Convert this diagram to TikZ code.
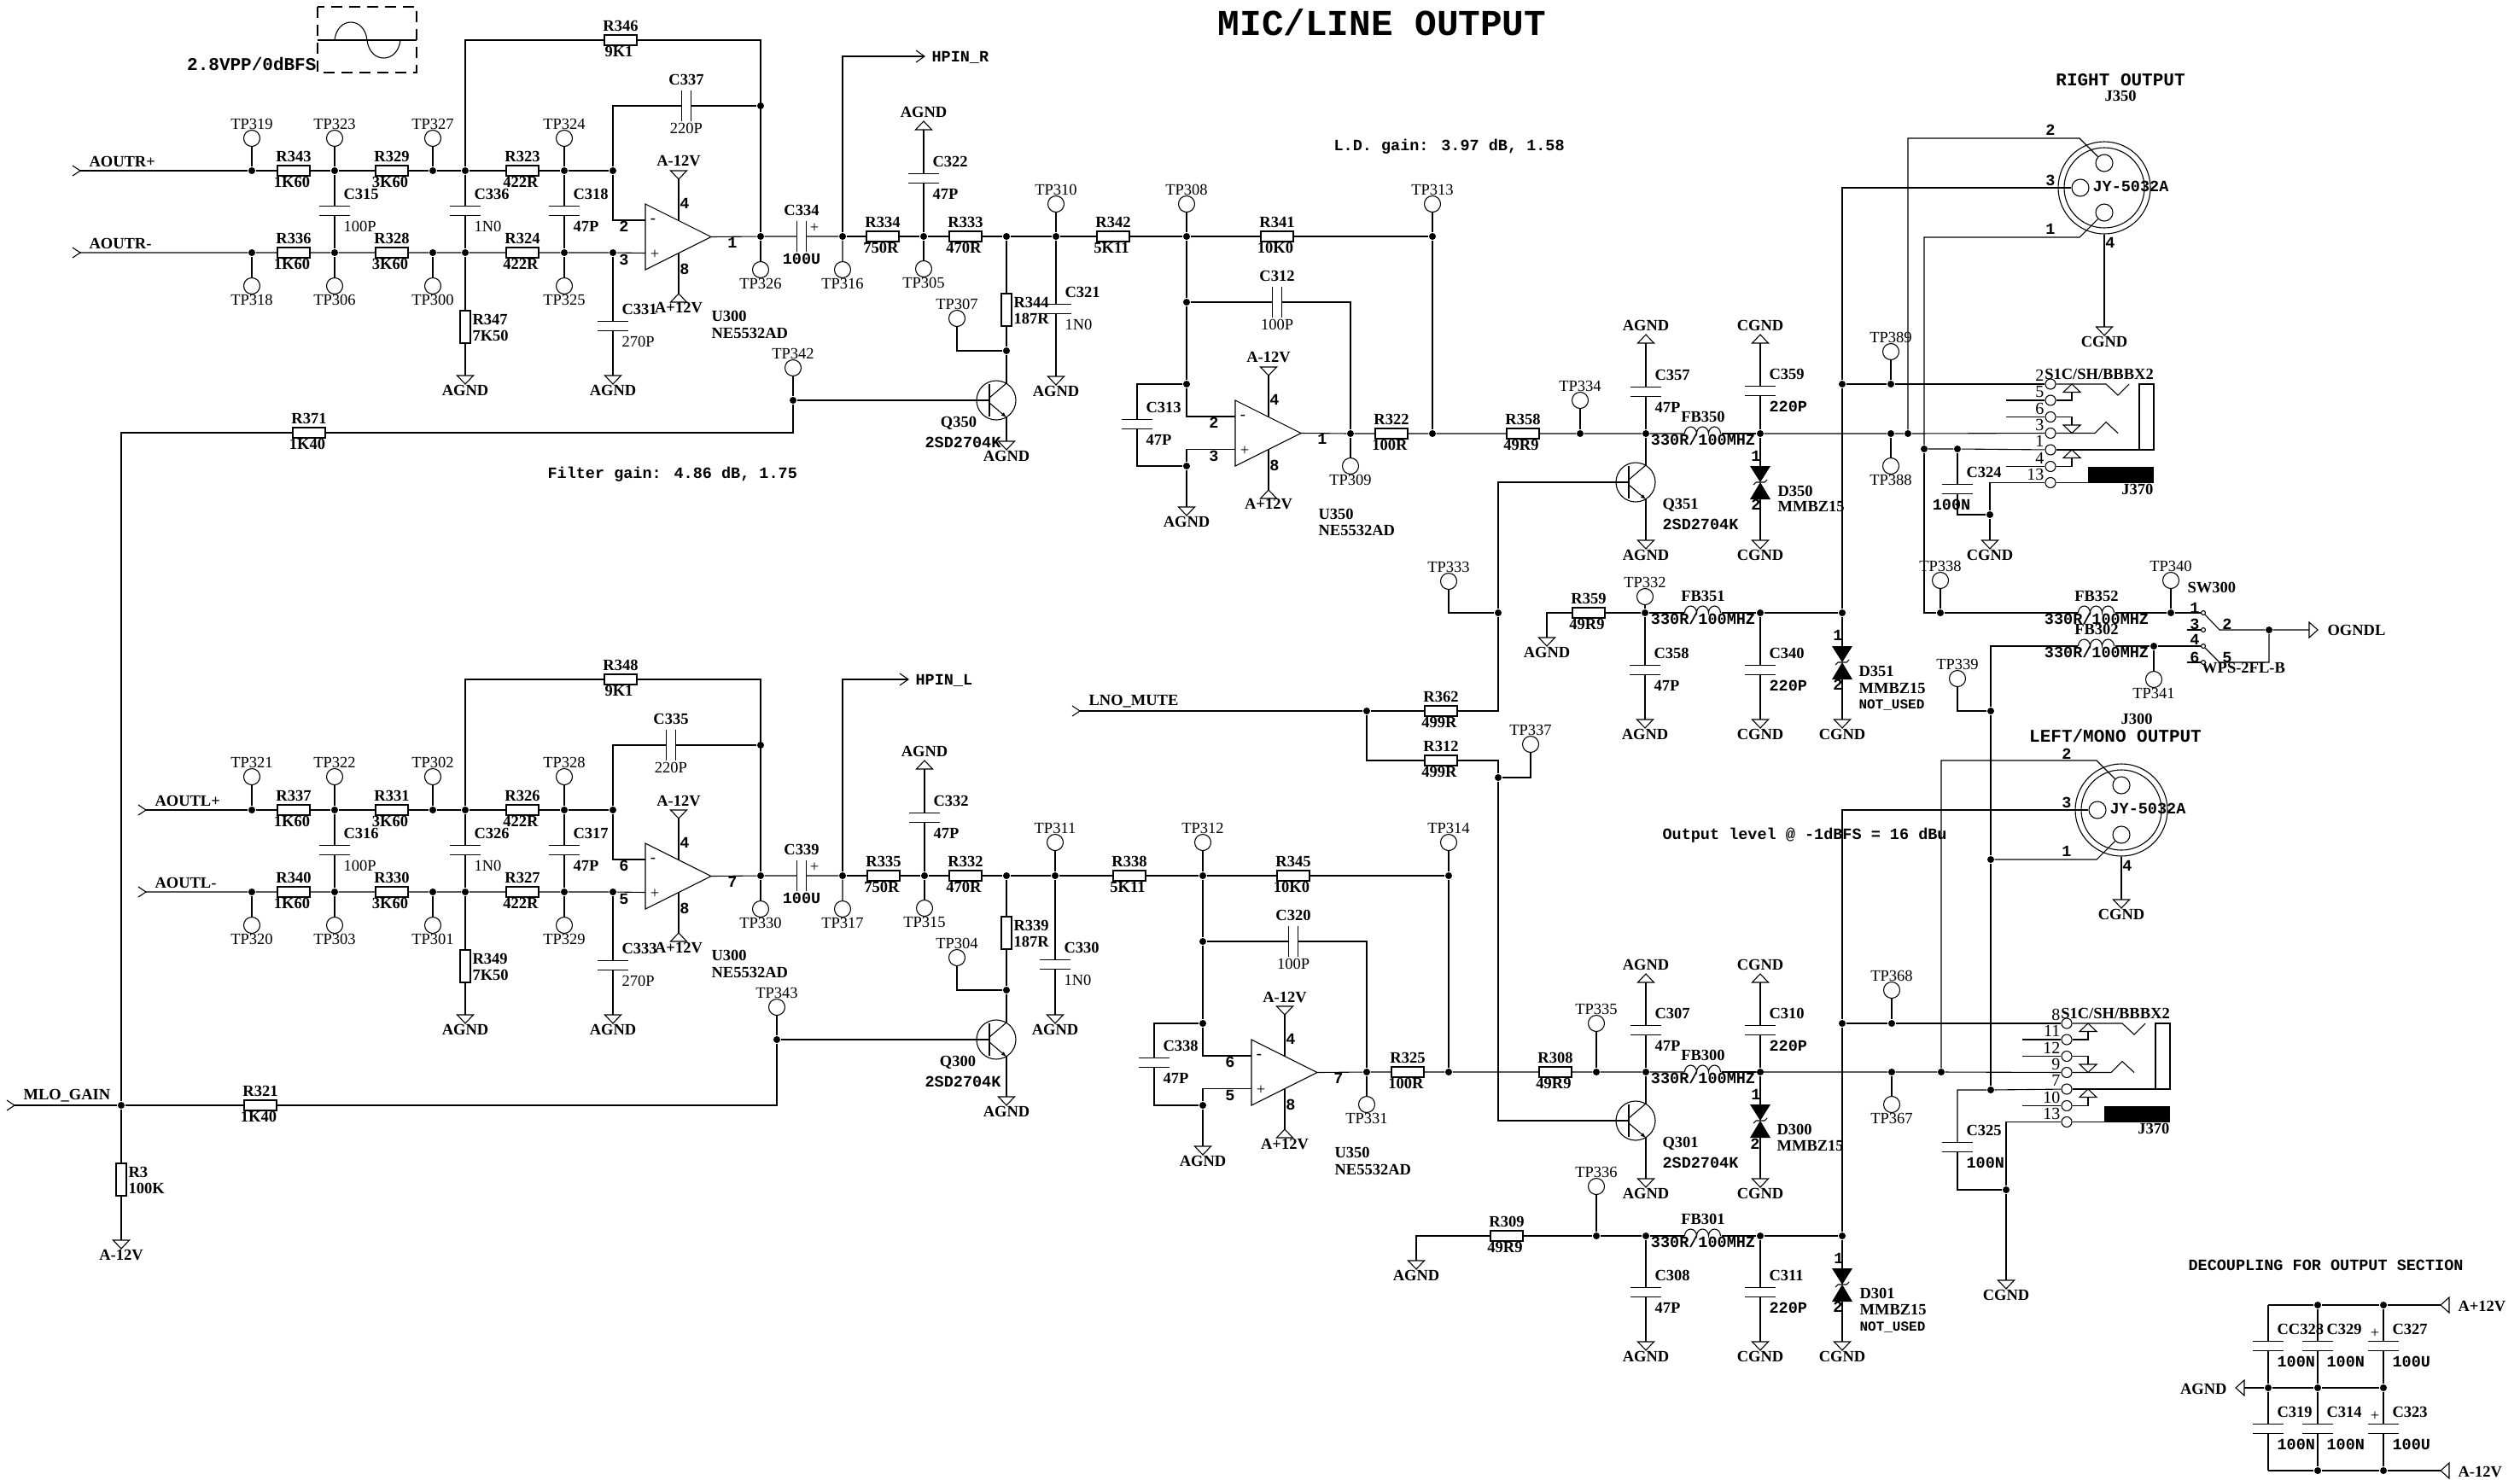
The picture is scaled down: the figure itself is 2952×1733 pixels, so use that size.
\documentclass[tikz,border=0pt]{standalone}
\usepackage{fontspec}
\setmainfont{Liberation Serif}
\newfontfamily\mymonofont{Liberation Mono}
\newcommand{\fsmono}{\mymonofont\fontsize{18.5}{20}\selectfont\bfseries}
\newcommand{\vmono}[1]{{\fsmono #1}}
\newcommand{\vbold}[1]{{\bfseries #1}}
% parts, all at pixel coordinates
\newcommand{\myjun}[3]{\node[mydot] (#1) at (#2,#3) {};}
\newcommand{\mytest}[4]{\node[mytp, label={[mylab]#4:#1}] (#1) at (#2,#3) {};}
\newcommand{\myresh}[4]{\node[myres] (#1) at (#2,#3) {};
	\node[mybold] (#1r) at ([shift={(0,-17)}]#1.center) {#1};
	\node[mybold] (#1v) at ([shift={(-2,13)}]#1.center) {#4};}
\newcommand{\myresv}[4]{\node[myrv] (#1) at (#2,#3) {};
	\node[myboldl] (#1r) at ([shift={(8,-9)}]#1.center) {#1};
	\node[myboldl] (#1v) at ([shift={(8,10)}]#1.center) {#4};}
\newcommand{\mycaph}[4]{\node[mych] (#1) at (#2,#3) {};
	\draw (#1.north west) -- (#1.north east) (#1.south west) -- (#1.south east);
	\node[myboldl] (#1r) at ([shift={(10,-20)}]#1.center) {#1};
	\node[mytextl] (#1v) at ([shift={(10,18)}]#1.center) {#4};}
\newcommand{\mycapv}[4]{\node[mycv] (#1) at (#2,#3) {};
	\draw (#1.north west) -- (#1.south west) (#1.north east) -- (#1.south east);
	\node[mybold] (#1r) at ([shift={(0,-31)}]#1.center) {#1};
	\node[mytext] (#1v) at ([shift={(0,26)}]#1.center) {#4};}
\newcommand{\myfb}[4]{\node[myind] (#1) at (#2,#3) {};
	\draw (#1.west) arc[start angle=180,end angle=0,x radius=7pt,y radius=8pt]
		arc[start angle=180,end angle=0,x radius=7pt,y radius=8pt]
		arc[start angle=180,end angle=0,x radius=7pt,y radius=8pt];
	\node[mybold] (#1r) at ([shift={(0,-20)}]#1.center) {#1};
	\node[mymono] (#1v) at ([shift={(0,7)}]#1.center) {#4};}
% supply and ground triangles: base offset, tip offset, text offset
\newcommand{\mypow}[7]{\coordinate (#1) at (#2,#3);
	\draw ([shift={(-9.5,#4)}]#1) -- ([shift={(9.5,#4)}]#1) -- ([shift={(0,#5)}]#1) -- cycle;
	\node[mybold] (#1t) at ([shift={(0,#6)}]#1) {#7};}
\newcommand{\mygd}[4]{\mypow{#1}{#2}{#3}{0}{10}{17}{#4}}
\newcommand{\mygu}[4]{\mypow{#1}{#2}{#3}{0}{-10}{-21}{#4}}
\newcommand{\mypowh}[5]{\coordinate (#1) at (#2,#3);
	\draw ([shift={(#4,-9)}]#1) -- ([shift={(#4,9)}]#1) -- ([shift={(#5,0)}]#1) -- cycle;}
\newcommand{\myin}[4]{\coordinate (#1) at (#2,#3);
	\draw ([shift={(-9,-6)}]#1) -- (#1) -- ([shift={(-9,6)}]#1);
	\node[myboldl] (#1t) at ([shift={(10,-11)}]#1) {#4};}
\newcommand{\mypin}[4]{\node[mymono] (#1) at (#2,#3) {#4};}
\newcommand{\myop}[6]{\begin{scope}[shift={(#2,#3)}]
	\draw (0,0) -- (77,38.5) -- (0,77) -- cycle;
	\coordinate (#1n) at (0,19); \coordinate (#1p) at (0,57.5); \coordinate (#1o) at (77,38.5);
	\coordinate (#1t) at (39,19.5); \coordinate (#1b) at (39,57.5);
	\node[mybold] (#1m) at (9,20) {-}; \node[mytext] (#1a) at (11,59) {+};
	\mypow{#1g}{39}{-29}{-10}{0}{-21}{A-12V}
	\mypow{#1h}{39}{105}{10}{0}{17}{A+12V}
	\draw (#1t) -- (#1g) (#1b) -- (#1h);
	\mypin{#1pt}{46}{-1}{4} \mypin{#1pb}{46}{76}{8}
	\mypin{#1pn}{-25}{26}{#4} \mypin{#1pp}{-25}{65}{#5} \mypin{#1po}{102}{45}{#6}
	\end{scope}}
\newcommand{\mynpn}[3]{\node[mytr] (#1) at (#2,#3) {};
	\coordinate (#1b) at ([shift={(-8,0)}]#1.center);
	\coordinate (#1c) at ([shift={(12,-20)}]#1.center);
	\coordinate (#1e) at ([shift={(12,20)}]#1.center);
	\draw[line width=2.5pt] ([shift={(-8,-19)}]#1.center) -- ([shift={(-8,19)}]#1.center);
	\draw ([shift={(-8,-3)}]#1.center) -- (#1c);
	\draw[-latex] ([shift={(-8,3)}]#1.center) -- (#1e);}
\newcommand{\myzen}[3]{\coordinate (#1a) at (#2,#3-19); \coordinate (#1k) at (#2,#3+20);
	\coordinate (#1m) at (#2,#3);
	\fill ([shift={(-12,0)}]#1a) -- ([shift={(12,0)}]#1a) -- (#1m) -- cycle;
	\fill ([shift={(-12,0)}]#1k) -- ([shift={(12,0)}]#1k) -- (#1m) -- cycle;
	\draw ([shift={(-8,3)}]#1m) -- ([shift={(-5,0)}]#1m) -- ([shift={(5,0)}]#1m) -- ([shift={(8,-3)}]#1m);}
\newcommand{\myjack}[9]{\begin{scope}[shift={(#2,#3)}]
	\node[mypn] (#1a) at (0,0) {}; \node[mypn] (#1b) at (0,19) {}; \node[mypn] (#1c) at (0,38.5) {};
	\node[mypn] (#1d) at (0,57.5) {}; \node[mypn] (#1e) at (0,77) {}; \node[mypn] (#1f) at (0,96.5) {};
	\node[mypn] (#1g) at (0,115.5) {};
	\node[mynum] (#1na) at (-7,-10) {#4}; \node[mynum] (#1nb) at (-7,9) {#5}; \node[mynum] (#1nc) at (-7,28.5) {#6};
	\node[mynum] (#1nd) at (-7,47.5) {#7}; \node[mynum] (#1ne) at (-7,67) {#8}; \node[mynum] (#1nf) at (-7,86.5) {#9};
	\node[mynum] (#1ng) at (-7,105.5) {13};
	\draw (#1a) -- (65,0) -- (79,13) -- (92,0);
	\draw (104,0) rectangle (121,77);
	\draw (#1e) -- (104,77);
	\draw (-52,19) -- (#1b) (#1b) -- (25,19) -- (25,9.5);
	\draw (25,0) -- (35,9.5) -- (15,9.5) -- cycle;
	\draw (-52,38.5) -- (#1c) (#1c) -- (25,38.5) -- (25,48);
	\draw (25,57.5) -- (35,48) -- (15,48) -- cycle;
	\draw (#1d) -- (52,57.5) -- (65,44.5) -- (79,57.5);
	\draw (-52,96.5) -- (#1f) (#1f) -- (25,96.5) -- (25,86.5);
	\draw (25,77) -- (35,86.5) -- (15,86.5) -- cycle;
	\draw (#1g) -- (44,115.5);
	\fill (44,96.5) rectangle (121,115.5);
	\node[mybold] (#1s) at (57,-12) {S1C/SH/BBBX2};
	\node[mybold, anchor=east] (#1j) at (121,123) {J370};
	\end{scope}}
\newcommand{\myxlr}[3]{\begin{scope}[shift={(#2,#3)}]
	\node[myxo] (#1) at (0,0) {}; \node[myxi] (#1i) at (0,0) {};
	\node[myxp] (#1t) at (0,-29) {}; \node[myxp] (#1l) at (-28,0) {}; \node[myxp] (#1d) at (0,29) {};
	\coordinate (#1bt) at (-29,-58); \coordinate (#1bd) at (-29,58);
	\node[mymonol] (#1s) at (-14,-2) {JY-5032A};
	\end{scope}}

\begin{document}
\begin{tikzpicture}[x=1pt,y=-1pt,line width=1.1pt]
\tikzstyle{mydot} = [circle, minimum size=8pt, fill, inner sep=0pt] % wire junction
\tikzstyle{mytp} = [circle, minimum size=19pt, draw, inner sep=0pt, label distance=3pt] % test point
\tikzstyle{mypn} = [circle, minimum size=12pt, draw, inner sep=0pt, fill=white] % jack pin
\tikzstyle{mysw} = [circle, minimum size=5pt, draw, inner sep=0pt, fill=white] % switch contact
\tikzstyle{myres} = [rectangle, draw, minimum width=38pt, minimum height=12pt, inner sep=0pt]
\tikzstyle{myrv} = [rectangle, draw, minimum width=12pt, minimum height=38pt, inner sep=0pt]
\tikzstyle{mych} = [rectangle, minimum width=34pt, minimum height=10pt, inner sep=0pt]
\tikzstyle{mycv} = [rectangle, minimum width=10pt, minimum height=34pt, inner sep=0pt]
\tikzstyle{myind} = [rectangle, minimum width=42pt, minimum height=1pt, inner sep=0pt]
\tikzstyle{mytr} = [circle, draw, minimum size=46pt, inner sep=0pt]
\tikzstyle{myxo} = [circle, draw, minimum size=108pt, inner sep=0pt]
\tikzstyle{myxi} = [circle, draw, minimum size=94pt, inner sep=0pt]
\tikzstyle{myxp} = [circle, draw, minimum size=20pt, inner sep=0pt]
\tikzstyle{mybold} = [inner sep=0pt, font=\fontsize{18.5}{20}\selectfont\bfseries]
\tikzstyle{myboldl} = [mybold, anchor=west]
\tikzstyle{mytext} = [inner sep=0pt, font=\fontsize{18.5}{20}\selectfont]
\tikzstyle{mytextl} = [mytext, anchor=west]
\tikzstyle{mylab} = [inner sep=0pt, font=\fontsize{18.5}{20}\selectfont]
\tikzstyle{mynum} = [inner sep=0pt, anchor=east, font=\fontsize{20}{22}\selectfont]
\tikzstyle{mymono} = [inner sep=0pt, font=\fsmono]
\tikzstyle{mymonol} = [mymono, anchor=west]
\tikzstyle{mybig} = [inner sep=0pt, font=\mymonofont\fontsize{21}{23}\selectfont\bfseries]
\useasboundingbox (0,0) rectangle (2952,1733);

\node[inner sep=0pt, font=\mymonofont\fontsize{42.7}{45}\selectfont\bfseries] (title) at (1619,26) {MIC/LINE OUTPUT};
\node[mybig, anchor=east] (wavet) at (371,75) {2.8VPP/0dBFS};
\draw[dash pattern=on 13pt off 8pt] (372,8) rectangle (488,85); % wave box
\draw (372,47) -- (488,47);
\draw (392,47) .. controls (395,19) and (427,19) .. (430,47) .. controls (433,75) and (466,75) .. (469,47);
\node[mymonol] (filtert) at (641,556) {Filter gain: 4.86 dB, 1.75};
\node[mymonol] (ldt) at (1562,172) {L.D. gain: 3.97 dB, 1.58};
\node[mymonol] (levelt) at (1947,979) {Output level @ -1dBFS = 16 dBu};
\node[mybig] (rightt) at (2484,94) {RIGHT OUTPUT};
\node[mybold] (J350name) at (2484,112) {J350};
\node[mybold] (J300name) at (2503,842) {J300};
\node[mybig] (leftt) at (2478,862) {LEFT/MONO OUTPUT};
\node[mymonol] (dect) at (2563,1482) {DECOUPLING FOR OUTPUT SECTION};

% right channel filter
\myin{AOUTRP}{94}{200}{AOUTR+}
\myin{AOUTRM}{94}{296}{AOUTR-}
\myjun{j319}{295}{200} \myjun{j323}{392}{200} \myjun{j327}{507}{200} \myjun{j336}{545}{200} \myjun{j324}{661}{200} \myjun{j2}{718}{200}
\myjun{j318}{295}{296} \myjun{j306}{392}{296} \myjun{j300}{507}{296} \myjun{j347}{545}{296} \myjun{j325}{661}{296} \myjun{j3}{718}{296}
\mytest{TP319}{295}{162}{above} \mytest{TP323}{392}{162}{above} \mytest{TP327}{507}{162}{above} \mytest{TP324}{661}{162}{above}
\mytest{TP318}{295}{335}{below} \mytest{TP306}{392}{335}{below} \mytest{TP300}{507}{335}{below} \mytest{TP325}{661}{335}{below}
\myresh{R343}{344}{200}{1K60} \myresh{R329}{459}{200}{3K60} \myresh{R323}{612}{200}{422R}
\myresh{R336}{344}{296}{1K60} \myresh{R328}{459}{296}{3K60} \myresh{R324}{612}{296}{422R}
\mycaph{C315}{392}{247}{100P} \mycaph{C336}{545}{247}{1N0} \mycaph{C318}{661}{247}{\vbold{47P}}
\mycaph{C331}{718}{382}{270P}
\myresv{R347}{545}{383}{7K50}
\mygd{gR347}{545}{440}{AGND} \mygd{gC331}{718}{440}{AGND}
\myresh{R346}{727}{47}{9K1}
\mycapv{C337}{804}{124}{220P}
\myop{UA}{756}{239}{2}{3}{1}
\node[myboldl] (UAr) at (833,370) {U300};
\node[myboldl] (UAv) at (833,390) {NE5532AD};
\myjun{j337}{891}{124} \myjun{j326}{891}{277} \myjun{j316}{987}{277}
\mytest{TP326}{891}{316}{below} \mytest{TP316}{987}{316}{below}
\mycapv{C334}{939}{277}{\vmono{100U}}
\node[mytext] (C334a) at (954,267) {+};
\draw (AOUTRP) -- (j319) -- (R343) -- (j323) -- (R329) -- (j327) -- (j336) -- (R323) -- (j324) -- (j2);
\draw (AOUTRM) -- (j318) -- (R336) -- (j306) -- (R328) -- (j300) -- (j347) -- (R324) -- (j325) -- (j3) -- (UAp);
\draw (TP319) -- (j319) (TP323) -- (j323) (TP327) -- (j327) (TP324) -- (j324);
\draw (TP318) -- (j318) (TP306) -- (j306) (TP300) -- (j300) (TP325) -- (j325);
\draw (j323) -- (C315.north) (C315.south) -- (j306);
\draw (j336) -- (C336.north) (C336.south) -- (j347) -- (R347) -- (gR347);
\draw (j324) -- (C318.north) (C318.south) -- (j325);
\draw (j3) -- (C331.north) (C331.south) -- (gC331);
\draw (j336) |- (R346) -| (j326);
\draw (j2) |- (UAn);
\draw (j2) |- (C337.west) (C337.east) -- (j337);
\draw (UAo) -- (j326) -- (C334.west) (C334.east) -- (j316) -- (TP316);
\draw (j326) -- (TP326);

% right channel line driver
\coordinate (HPINR) at (1083,66);
\draw (HPINR) ++(-10,-7) -- (HPINR) -- ++(-10,7);
\node[mymonol] (HPINRt) at (1091,67) {HPIN\_R};
\myjun{j322}{1082}{277} \myjun{j344}{1179}{277} \myjun{j310}{1237}{277} \myjun{j308}{1390}{277} \myjun{j313}{1678}{277}
\myresh{R334}{1034}{277}{750R} \myresh{R333}{1131}{277}{470R} \myresh{R342}{1304}{277}{5K11} \myresh{R341}{1496}{277}{10K0}
\mytest{TP305}{1082}{315}{below} \mytest{TP310}{1237}{239}{above} \mytest{TP308}{1390}{239}{above} \mytest{TP313}{1678}{239}{above}
\mytest{TP307}{1121}{373}{above}
\mycaph{C322}{1082}{209}{\vbold{47P}}
\mygu{gC322}{1082}{152}{AGND}
\myresv{R344}{1179}{363}{187R}
\myjun{j307}{1179}{411}
\mycaph{C321}{1237}{362}{1N0}
\mygd{gC321}{1237}{441}{AGND}
\mynpn{Q350}{1167}{469}
\mygd{gQ350}{1179}{517}{AGND}
\node[mybold] (Q350r) at (1123,496) {Q350};
\node[mymono] (Q350v) at (1128,518) {2SD2704K};
\mytest{TP342}{929}{431}{above}
\myjun{j342}{929}{469}
\myresh{R371}{362}{507}{1K40}
\myjun{jmlo}{142}{1295}
\draw (j316) |- (HPINR);
\draw (j316) -- (R334) -- (j322) -- (R333) -- (j344) -- (j310) -- (R342) -- (j308) -- (R341) -- (j313) -- (TP313);
\draw (TP305) -- (j322) -- (C322.south) (C322.north) -- (gC322);
\draw (j344) -- (R344) -- (j307) -- (Q350c) (Q350e) -- (gQ350);
\draw (TP307) |- (j307);
\draw (TP310) -- (j310) -- (C321.north) (C321.south) -- (gC321);
\draw (TP342) -- (j342) -- (Q350b);
\draw (R371) -| (j342);
\draw (R371) -| (jmlo);
\draw (TP308) -- (j308);
\myjun{j312}{1390}{354} \myjun{j313c}{1390}{450} \myjun{j313d}{1390}{546}
\mycapv{C312}{1496}{354}{100P}
\mycaph{C313}{1332}{497}{\vbold{47P}}
\myop{UB}{1447}{469}{2}{3}{1}
\node[myboldl] (UBr) at (1544,602) {U350};
\node[myboldl] (UBv) at (1544,621) {NE5532AD};
\mygd{gUB}{1390}{594}{AGND}
\myjun{j309}{1582}{508} \myjun{j313b}{1678}{508} \myjun{j334}{1851}{508} \myjun{j357}{1928}{508} \myjun{j359}{2062}{508}
\mytest{TP309}{1582}{546}{below} \mytest{TP334}{1851}{469}{above}
\myresh{R322}{1630}{508}{100R} \myresh{R358}{1784}{508}{49R9}
\myfb{FB350}{1995}{508}{330R/100MHZ}
\mycaph{C357}{1928}{459}{\vbold{47P}}
\mygu{gC357}{1928}{402}{AGND}
\mycaph{C359}{2062}{458}{\vmono{220P}}
\mygu{gC359}{2062}{402}{CGND}
\mynpn{Q351}{1916}{565}
\mygd{gQ351}{1928}{633}{AGND}
\node[myboldl] (Q351r) at (1947,592) {Q351};
\node[mymonol] (Q351v) at (1947,614) {2SD2704K};
\myzen{D350}{2062}{565}
\mygd{gD350}{2062}{633}{CGND}
\mypin{D350pa}{2057}{534}{1} \mypin{D350pk}{2057}{591}{2}
\node[myboldl] (D350r) at (2082,575) {D350};
\node[myboldl] (D350v) at (2082,593) {MMBZ15};
\draw (j308) -- (j312) -- (j313c) |- (UBn);
\draw (j312) -- (C312.west) (C312.east) -| (j309);
\draw (j313c) -| (C313.north) (C313.south) |- (j313d) |- (UBp);
\draw (j313d) -- (gUB);
\draw (UBo) -- (j309) -- (R322) -- (j313b) -- (R358) -- (j334) -- (j357) -- (FB350.west);
\draw (FB350.east) -- (j359);
\draw (j313) -- (j313b) (j309) -- (TP309) (j334) -- (TP334);
\draw (j357) -- (C357.south) (C357.north) -- (gC357);
\draw (j359) -- (C359.south) (C359.north) -- (gC359);
\draw (j357) -- (Q351c) (Q351e) -- (gQ351);
\draw (j359) -- (D350a) (D350k) -- (gD350);

% mute network and second feed
\myin{LNOMUTE}{1265}{833}{LNO\_MUTE}
\myjun{j362}{1601}{833} \myjun{j333}{1755}{718} \myjun{j337b}{1755}{911}
\myresh{R362}{1688}{833}{499R} \myresh{R312}{1688}{891}{499R}
\mytest{TP333}{1697}{681}{above} \mytest{TP337}{1793}{872}{above}
\draw (LNOMUTE) -- (j362) -- (R362) -| (j333) |- (Q351b);
\draw (j362) |- (R312) -| (j337b);
\draw (TP333) |- (j333);
\draw (TP337) |- (j337b);
\myresh{R359}{1861}{718}{49R9}
\mygd{gR359}{1812}{747}{AGND}
\myjun{j332}{1927}{718} \myjun{j340c}{2062}{718} \myjun{j2158b}{2158}{718}
\mytest{TP332}{1927}{699}{above}
\myfb{FB351}{1995}{718}{330R/100MHZ}
\mycaph{C358}{1927}{785}{\vbold{47P}}
\mycaph{C340}{2062}{785}{\vmono{220P}}
\mygd{gC358}{1927}{843}{AGND} \mygd{gC340}{2062}{843}{CGND} \mygd{gD351}{2158}{843}{CGND}
\myzen{D351}{2158}{776}
\mypin{D351pa}{2153}{744}{1} \mypin{D351pk}{2153}{802}{2}
\node[myboldl] (D351r) at (2177,786) {D351};
\node[myboldl] (D351v) at (2177,806) {MMBZ15};
\node[inner sep=0pt, anchor=west, font=\mymonofont\fontsize{16}{18}\selectfont\bfseries] (D351n) at (2177,826) {NOT\_USED};
\draw (gR359) |- (R359) -- (j332) -- (FB351.west) (FB351.east) -- (j340c) -- (j2158b);
\draw (TP332) -- (j332) -- (C358.north) (C358.south) -- (gC358);
\draw (j340c) -- (C340.north) (C340.south) -- (gC340);
\draw (j2158b) -- (D351a) (D351k) -- (gD351);

% right output connectors
\myxlr{J350}{2465}{220}
\mypin{J350n2}{2402}{152}{2} \mypin{J350n3}{2402}{211}{3} \mypin{J350n1}{2402}{268}{1} \mypin{J350n4}{2472}{284}{4}
\mygd{gJ350}{2465}{383}{CGND}
\myjack{JR}{2402}{450}{2}{5}{6}{3}{1}{4}
\myjun{j2158a}{2158}{450} \myjun{j389}{2215}{450} \myjun{j388}{2215}{508} \myjun{j2235}{2235}{508} \myjun{j2254}{2254}{526} \myjun{j324c}{2293}{526} \myjun{j324g}{2331}{603}
\mytest{TP389}{2215}{412}{above} \mytest{TP388}{2215}{546}{below}
\mycaph{C324}{2293}{573}{}
\node[mymono] (C324v) at (2286,591) {100N};
\mygd{gC324}{2331}{633}{CGND}
\draw (J350l) -| (j2158a) -- (j2158b);
\draw (J350t) -- (J350bt) -| (j2235);
\draw (J350d) -- (J350bd) -| (j2254);
\draw (J350) -- (gJ350);
\draw (j2158a) -- (j389) -- (JRa);
\draw (TP389) -- (j389);
\draw (j359) -- (j388) -- (j2235) -- (JRd);
\draw (TP388) -- (j388);
\draw (j2254) -- (j324c) -- (JRe);
\draw (j324c) -- (C324.north) (C324.south) |- (j324g);
\draw (JRg) -| (j324g) -- (gC324);

% output ground switch
\myjun{j338}{2273}{718} \myjun{j340}{2543}{718} \myjun{j341}{2523}{757} \myjun{j658}{2658}{738} \myjun{j339}{2332}{833}
\mytest{TP338}{2273}{680}{above} \mytest{TP340}{2543}{680}{above} \mytest{TP341}{2523}{796}{below} \mytest{TP339}{2293}{795}{above}
\myfb{FB352}{2456}{718}{330R/100MHZ}
\myfb{FB302}{2456}{757}{330R/100MHZ}
\node[myboldl] (SW300) at (2562,688) {SW300};
\node[mybold] (SW300v) at (2628,783) {WPS-2FL-B};
\node[mysw] (sw1) at (2581,718) {}; \node[mysw] (sw3) at (2581,738) {}; \node[mysw] (sw4) at (2581,757) {}; \node[mysw] (sw6) at (2581,776) {};
\coordinate (sw2) at (2600,738); \coordinate (sw5) at (2600,776);
\coordinate (sw3s) at (2562,738); \coordinate (sw6s) at (2562,776);
\mypin{swn1}{2571}{712}{1} \mypin{swn3}{2571}{731}{3} \mypin{swn4}{2571}{749}{4} \mypin{swn6}{2571}{770}{6} \mypin{swn2}{2609}{731}{2} \mypin{swn5}{2609}{770}{5}
\mypowh{OGNDL}{2705}{738}{0}{10}
\node[myboldl] (OGNDLt) at (2726,738) {OGNDL};
\draw (j2254) |- (j338) -- (FB352.west) (FB352.east) -- (j340) -- (sw1);
\draw (TP338) -- (j338) (TP340) -- (j340);
\draw (sw1) -- (sw2) -- (j658) -- (OGNDL);
\draw (sw3s) -- (sw3) (sw6s) -- (sw6);
\draw (FB302.east) -- (j341) -- (sw4);
\draw (TP341) -- (j341);
\draw (sw4) -- (sw5) -| (j658);
\draw (FB302.west) -| (j339);
\draw (TP339) |- (j339);

% left channel filter
\myin{AOUTLP}{171}{949}{AOUTL+}
\myin{AOUTLM}{171}{1045}{AOUTL-}
\myjun{k321}{295}{949} \myjun{k322}{392}{949} \myjun{k302}{507}{949} \myjun{k326}{545}{949} \myjun{k328}{661}{949} \myjun{k6}{718}{949}
\myjun{k320}{295}{1045} \myjun{k303}{392}{1045} \myjun{k301}{507}{1045} \myjun{k349}{545}{1045} \myjun{k329}{661}{1045} \myjun{k5}{718}{1045}
\mytest{TP321}{295}{910}{above} \mytest{TP322}{392}{910}{above} \mytest{TP302}{507}{910}{above} \mytest{TP328}{661}{910}{above}
\mytest{TP320}{295}{1084}{below} \mytest{TP303}{392}{1084}{below} \mytest{TP301}{507}{1084}{below} \mytest{TP329}{661}{1084}{below}
\myresh{R337}{344}{949}{1K60} \myresh{R331}{459}{949}{3K60} \myresh{R326}{612}{949}{422R}
\myresh{R340}{344}{1045}{1K60} \myresh{R330}{459}{1045}{3K60} \myresh{R327}{612}{1045}{422R}
\mycaph{C316}{392}{996}{100P} \mycaph{C326}{545}{996}{1N0} \mycaph{C317}{661}{996}{\vbold{47P}}
\mycaph{C333}{718}{1131}{270P}
\myresv{R349}{545}{1132}{7K50}
\mygd{gR349}{545}{1189}{AGND} \mygd{gC333}{718}{1189}{AGND}
\myresh{R348}{727}{796}{9K1}
\mycapv{C335}{786}{873}{220P}
\myop{UC}{756}{988}{6}{5}{7}
\node[myboldl] (UCr) at (833,1119) {U300};
\node[myboldl] (UCv) at (833,1139) {NE5532AD};
\myjun{k335}{891}{873} \myjun{k330}{891}{1026} \myjun{k317}{987}{1026}
\mytest{TP330}{891}{1065}{below} \mytest{TP317}{987}{1065}{below}
\mycapv{C339}{939}{1026}{\vmono{100U}}
\node[mytext] (C339a) at (954,1016) {+};
\draw (AOUTLP) -- (k321) -- (R337) -- (k322) -- (R331) -- (k302) -- (k326) -- (R326) -- (k328) -- (k6);
\draw (AOUTLM) -- (k320) -- (R340) -- (k303) -- (R330) -- (k301) -- (k349) -- (R327) -- (k329) -- (k5) -- (UCp);
\draw (TP321) -- (k321) (TP322) -- (k322) (TP302) -- (k302) (TP328) -- (k328);
\draw (TP320) -- (k320) (TP303) -- (k303) (TP301) -- (k301) (TP329) -- (k329);
\draw (k322) -- (C316.north) (C316.south) -- (k303);
\draw (k326) -- (C326.north) (C326.south) -- (k349) -- (R349) -- (gR349);
\draw (k328) -- (C317.north) (C317.south) -- (k329);
\draw (k5) -- (C333.north) (C333.south) -- (gC333);
\draw (k326) |- (R348) -| (k330);
\draw (k6) |- (UCn);
\draw (k6) |- (C335.west) (C335.east) -- (k335);
\draw (UCo) -- (k330) -- (C339.west) (C339.east) -- (k317) -- (TP317);
\draw (k330) -- (TP330);

% left channel line driver
\coordinate (HPINL) at (1064,796);
\draw (HPINL) ++(-10,-7) -- (HPINL) -- ++(-10,7);
\node[mymonol] (HPINLt) at (1072,797) {HPIN\_L};
\myjun{k315}{1083}{1026} \myjun{k339}{1179}{1026} \myjun{k311}{1236}{1026} \myjun{k312}{1409}{1026} \myjun{k314}{1697}{1026}
\myresh{R335}{1035}{1026}{750R} \myresh{R332}{1131}{1026}{470R} \myresh{R338}{1323}{1026}{5K11} \myresh{R345}{1515}{1026}{10K0}
\mytest{TP315}{1083}{1064}{below} \mytest{TP311}{1236}{987}{above} \mytest{TP312}{1409}{987}{above} \mytest{TP314}{1697}{987}{above}
\mytest{TP304}{1121}{1122}{above}
\mycaph{C332}{1083}{958}{\vbold{47P}}
\mygu{gC332}{1083}{901}{AGND}
\myresv{R339}{1179}{1093}{187R}
\myjun{k304}{1179}{1160}
\mycaph{C330}{1236}{1130}{1N0}
\mygd{gC330}{1236}{1189}{AGND}
\mynpn{Q300}{1167}{1218}
\mygd{gQ300}{1179}{1285}{AGND}
\node[mybold] (Q300r) at (1122,1245) {Q300};
\node[mymono] (Q300v) at (1128,1267) {2SD2704K};
\mytest{TP343}{910}{1180}{above}
\myjun{k343}{910}{1218}
\myresh{R321}{305}{1295}{1K40}
\myin{MLOGAIN}{17}{1295}{MLO\_GAIN}
\myresv{R3}{142}{1382}{100K}
\mygd{gR3}{142}{1453}{A-12V}
\draw (k317) |- (HPINL);
\draw (k317) -- (R335) -- (k315) -- (R332) -- (k339) -- (k311) -- (R338) -- (k312) -- (R345) -- (k314) -- (TP314);
\draw (TP315) -- (k315) -- (C332.south) (C332.north) -- (gC332);
\draw (k339) -- (R339) -- (k304) -- (Q300c) (Q300e) -- (gQ300);
\draw (TP304) |- (k304);
\draw (TP311) -- (k311) -- (C330.north) (C330.south) -- (gC330);
\draw (TP343) -- (k343) -- (Q300b);
\draw (MLOGAIN) -- (jmlo) -- (R321) -| (k343);
\draw (jmlo) -- (R3) -- (gR3);
\draw (TP312) -- (k312);
\myjun{k320b}{1409}{1103} \myjun{k338c}{1409}{1199} \myjun{k338d}{1409}{1295}
\mycapv{C320}{1515}{1103}{100P}
\mycaph{C338}{1352}{1245}{\vbold{47P}}
\myop{UD}{1466}{1218}{6}{5}{7}
\node[myboldl] (UDr) at (1563,1350) {U350};
\node[myboldl] (UDv) at (1563,1370) {NE5532AD};
\mygd{gUD}{1409}{1343}{AGND}
\myjun{k331}{1601}{1256} \myjun{k314b}{1697}{1256} \myjun{k335b}{1870}{1256} \myjun{k307}{1928}{1256} \myjun{k310}{2062}{1256}
\mytest{TP331}{1601}{1294}{below} \mytest{TP335}{1870}{1199}{above}
\myresh{R325}{1649}{1256}{100R} \myresh{R308}{1822}{1256}{49R9}
\myfb{FB300}{1995}{1256}{330R/100MHZ}
\mycaph{C307}{1928}{1207}{\vbold{47P}}
\mygu{gC307}{1928}{1151}{AGND}
\mycaph{C310}{2062}{1207}{\vmono{220P}}
\mygu{gC310}{2062}{1151}{CGND}
\mynpn{Q301}{1916}{1313}
\mygd{gQ301}{1928}{1381}{AGND}
\node[myboldl] (Q301r) at (1947,1340) {Q301};
\node[mymonol] (Q301v) at (1947,1362) {2SD2704K};
\myzen{D300}{2062}{1313}
\mygd{gD300}{2062}{1381}{CGND}
\mypin{D300pa}{2057}{1282}{1} \mypin{D300pk}{2056}{1340}{2}
\node[myboldl] (D300r) at (2081,1323) {D300};
\node[myboldl] (D300v) at (2081,1342) {MMBZ15};
\draw (k312) -- (k320b) -- (k338c) |- (UDn);
\draw (k320b) -- (C320.west) (C320.east) -| (k331);
\draw (k338c) -| (C338.north) (C338.south) |- (k338d) |- (UDp);
\draw (k338d) -- (gUD);
\draw (UDo) -- (k331) -- (R325) -- (k314b) -- (R308) -- (k335b) -- (k307) -- (FB300.west);
\draw (FB300.east) -- (k310);
\draw (k314) -- (k314b) (k331) -- (TP331) (k335b) -- (TP335);
\draw (k307) -- (C307.south) (C307.north) -- (gC307);
\draw (k310) -- (C310.south) (C310.north) -- (gC310);
\draw (k307) -- (Q301c) (Q301e) -- (gQ301);
\draw (k310) -- (D300a) (D300k) -- (gD300);
\draw (j337b) |- (Q301b);
\myresh{R309}{1765}{1448}{49R9}
\mygd{gR309}{1659}{1477}{AGND}
\myjun{k336}{1870}{1448} \myjun{k308}{1928}{1448} \myjun{k311b}{2062}{1448} \myjun{k2158d}{2158}{1448}
\mytest{TP336}{1870}{1390}{above}
\myfb{FB301}{1995}{1448}{330R/100MHZ}
\mycaph{C308}{1928}{1514}{\vbold{47P}}
\mycaph{C311}{2062}{1514}{\vmono{220P}}
\mygd{gC308}{1928}{1572}{AGND} \mygd{gC311}{2062}{1572}{CGND} \mygd{gD301}{2158}{1572}{CGND}
\myzen{D301}{2158}{1505}
\mypin{D301pa}{2154}{1474}{1} \mypin{D301pk}{2153}{1531}{2}
\node[myboldl] (D301r) at (2178,1515) {D301};
\node[myboldl] (D301v) at (2178,1534) {MMBZ15};
\node[inner sep=0pt, anchor=west, font=\mymonofont\fontsize{16}{18}\selectfont\bfseries] (D301n) at (2178,1555) {NOT\_USED};
\draw (gR309) |- (R309) -- (k336) -- (k308) -- (FB301.west) (FB301.east) -- (k311b) -- (k2158d);
\draw (TP336) -- (k336);
\draw (k308) -- (C308.north) (C308.south) -- (gC308);
\draw (k311b) -- (C311.north) (C311.south) -- (gC311);
\draw (k2158d) -- (D301a) (D301k) -- (gD301);

% left output connectors
\myxlr{J300}{2485}{949}
\mypin{J300n2}{2421}{883}{2} \mypin{J300n3}{2421}{940}{3} \mypin{J300n1}{2421}{997}{1} \mypin{J300n4}{2492}{1014}{4}
\mygd{gJ300}{2485}{1054}{CGND}
\myjack{JL}{2421}{1199}{8}{11}{12}{9}{7}{10}
\myjun{k2158c}{2158}{1199} \myjun{k368}{2216}{1199} \myjun{k367}{2216}{1256} \myjun{k2274}{2274}{1256} \myjun{k2332}{2332}{1277} \myjun{k2332b}{2332}{1007} \myjun{k325g}{2350}{1394}
\mytest{TP368}{2216}{1160}{above} \mytest{TP367}{2216}{1294}{below}
\mycaph{C325}{2293}{1344}{\vmono{100N}}
\mygd{gC325}{2350}{1500}{CGND}
\draw (J300l) -| (k2158c) -- (k2158d);
\draw (J300t) -- (J300bt) -| (k2274);
\draw (J300d) -- (J300bd) -- (k2332b);
\draw (J300) -- (gJ300);
\draw (j339) -- (k2332b) -- (k2332);
\draw (k2158c) -- (k368) -- (JLa);
\draw (TP368) -- (k368);
\draw (FB300.east) -- (k367) -- (k2274) -- (JLd);
\draw (TP367) -- (k367);
\draw (C325.north) |- (k2332) -- (JLe);
\draw (C325.south) |- (k325g);
\draw (JLg) -| (k325g) -- (gC325);

% decoupling
\coordinate (ct) at (2657,1529); \coordinate (cb) at (2657,1723);
\myjun{d1}{2715}{1529} \myjun{d2}{2792}{1529} \myjun{m0}{2657}{1626} \myjun{m1}{2715}{1626} \myjun{m2}{2792}{1626} \myjun{b1}{2715}{1723} \myjun{b2}{2792}{1723}
\mycaph{CC328}{2657}{1577}{\vmono{100N}} \mycaph{C329}{2715}{1577}{\vmono{100N}} \mycaph{C327}{2792}{1577}{\vmono{100U}}
\mycaph{C319}{2657}{1674}{\vmono{100N}} \mycaph{C314}{2715}{1674}{\vmono{100N}} \mycaph{C323}{2792}{1674}{\vmono{100U}}
\node[mytext] (C327a) at (2782,1562) {+};
\node[mytext] (C323a) at (2782,1659) {+};
\mypowh{Ap}{2869}{1529}{0}{-10}
\mypowh{Am}{2869}{1723}{0}{-10}
\mypowh{Ag}{2629}{1626}{0}{-10}
\coordinate (Apw) at (2859,1529); \coordinate (Amw) at (2859,1723);
\node[myboldl] (Apt) at (2879,1530) {A+12V};
\node[myboldl] (Amt) at (2879,1724) {A-12V};
\node[mybold, anchor=east] (Agt) at (2609,1627) {AGND};
\draw (ct) -- (d1) -- (d2) -- (Apw);
\draw (cb) -- (b1) -- (b2) -- (Amw);
\draw (Ag) -- (m0) -- (m1) -- (m2);
\draw (ct) -- (CC328.north) (CC328.south) -- (m0) -- (C319.north) (C319.south) -- (cb);
\draw (d1) -- (C329.north) (C329.south) -- (m1) -- (C314.north) (C314.south) -- (b1);
\draw (d2) -- (C327.north) (C327.south) -- (m2) -- (C323.north) (C323.south) -- (b2);
\end{tikzpicture}
\end{document}
